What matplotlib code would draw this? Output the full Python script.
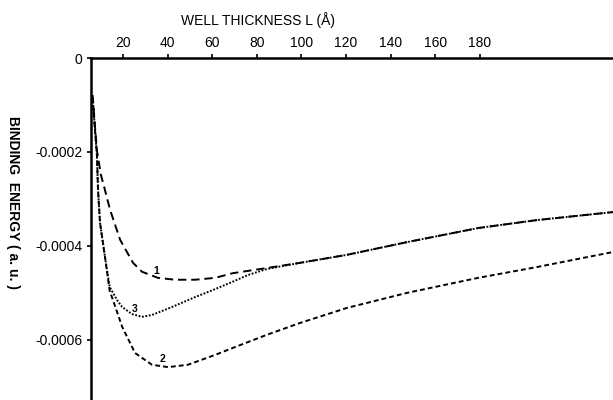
import matplotlib
matplotlib.use("Agg")
import matplotlib.pyplot as plt

plt.rcParams['font.family'] = ['Liberation Sans', 'DejaVu Sans']
plt.rcParams['lines.scale_dashes'] = False

# Curve 1
L1 = [6.4, 7.4, 8.3, 10.1, 11.9, 14.2, 18.7, 24.5, 28.5, 35.7, 43.3, 52.3, 61.3, 69.3,
      84.6, 99.4, 120.4, 147.3, 179.2, 205.6, 239.7]
E1 = [-0.79, -1.43, -1.96, -2.49, -2.81, -3.23, -3.87, -4.36, -4.55, -4.68, -4.72, -4.72,
      -4.68, -4.58, -4.47, -4.36, -4.19, -3.92, -3.62, -3.45, -3.28]

# Curve 2
L2 = [6.4, 7.4, 8.3, 8.8, 9.7, 11.9, 14.0, 17.3, 19.6, 25.4, 33.0, 40.2, 49.1, 61.3, 69.3,
      84.6, 99.4, 120.4, 147.3, 179.2, 205.6, 239.7]
E2 = [-0.85, -1.5, -2.06, -2.81, -3.51, -4.23, -4.95, -5.40, -5.72, -6.28, -6.53, -6.58,
      -6.53, -6.32, -6.17, -5.89, -5.64, -5.32, -5.00, -4.68, -4.45, -4.13]

# Curve 3
L3 = [6.4, 7.4, 8.3, 8.8, 9.7, 11.9, 14.0, 17.3, 19.6, 24.0, 28.5, 33.0, 42.0, 52.3, 61.3,
      69.3, 76.0, 84.6, 99.4, 120.4, 147.3, 179.2, 205.6, 239.7]
E3 = [-0.85, -1.5, -2.06, -2.81, -3.51, -4.23, -4.87, -5.15, -5.30, -5.45, -5.51, -5.47,
      -5.30, -5.09, -4.92, -4.76, -4.62, -4.49, -4.36, -4.19, -3.92, -3.62, -3.45, -3.28]

x_ticks = [20, 40, 60, 80, 100, 120, 140, 160, 180]
y_ticks = [0, -0.0002, -0.0004, -0.0006]
y_tick_labels = ['0', '-0.0002', '-0.0004', '-0.0006']

curve_labels = ['1', '2', '3']
label_pos = [(34.8, -4.53), (37.5, -6.41), (25.4, -5.34)]

fig = plt.figure(figsize=(6.13, 4.0), dpi=100)
ax = fig.add_axes([91 / 613, 0.0, 1 - 91 / 613, 1 - 58 / 400])

s = 1e-4
ax.plot(L1, [e * s for e in E1], color='black', lw=1.4, dashes=(6, 3.5))
ax.plot(L2, [e * s for e in E2], color='black', lw=1.4, dashes=(3.5, 2.2))
ax.plot(L3, [e * s for e in E3], color='black', lw=1.4, dashes=(1.3, 1.2))

for t, (lx, ly) in zip(curve_labels, label_pos):
    ax.text(lx, ly * s, t, fontsize=7.5, ha='center', va='center', fontweight='bold')

ax.set_xlim(5.65, 239.7)
ax.set_ylim(-0.000728, 0)

ax.xaxis.tick_top()
ax.xaxis.set_label_position('top')
ax.set_xticks(x_ticks)
ax.set_xticklabels([str(v) for v in x_ticks])
ax.set_yticks(y_ticks)
ax.set_yticklabels(y_tick_labels)
ax.tick_params(axis='both', labelsize=10, length=3, width=1.2, direction='out', pad=3)

ax.spines['right'].set_visible(False)
ax.spines['bottom'].set_visible(False)
ax.spines['left'].set_linewidth(1.8)
ax.spines['top'].set_linewidth(1.8)

fig.text(258 / 613, 1 - 20 / 400, 'WELL THICKNESS L (Å)', ha='center', va='center', fontsize=10)
fig.text(13 / 613, 1 - 203 / 400, 'BINDING  ENERGY ( a. u. )', ha='center', va='center',
         fontsize=10, rotation=-90, fontweight='bold')

fig.savefig('out.png', dpi=100)
